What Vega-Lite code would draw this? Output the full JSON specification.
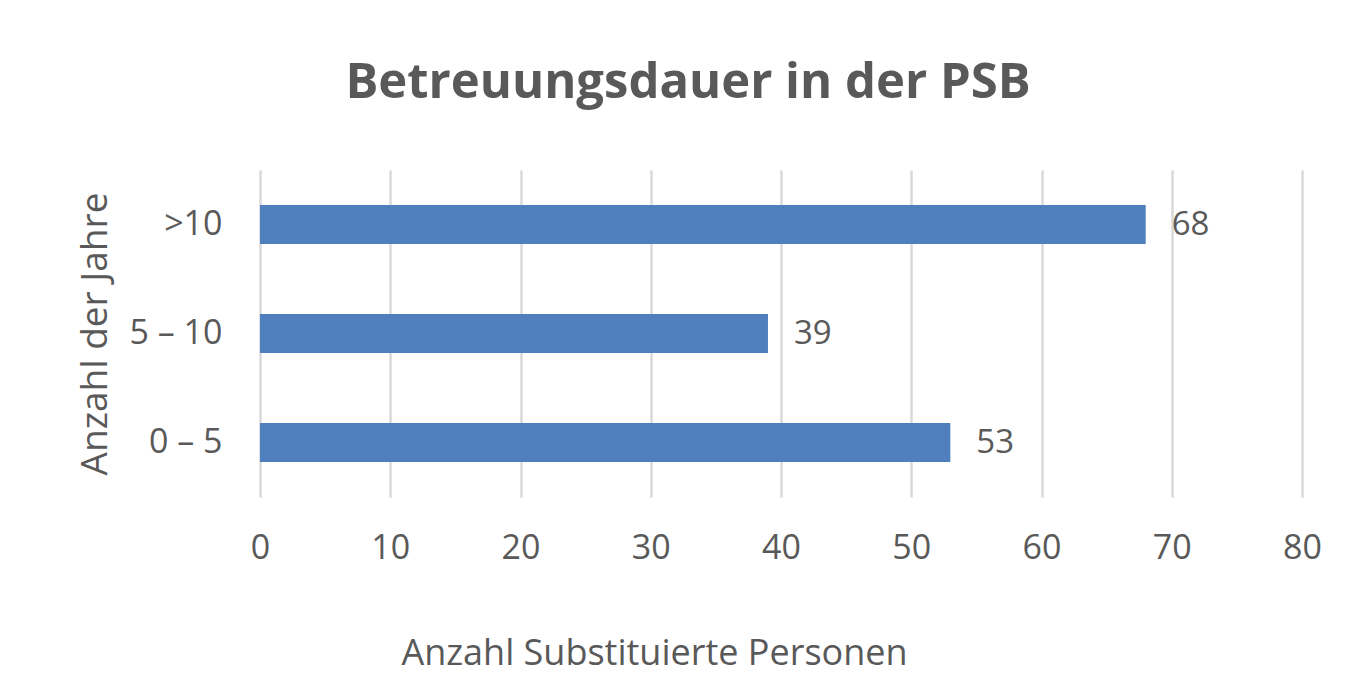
{
  "$schema": "https://vega.github.io/schema/vega-lite/v6.json",
  "width": 1042,
  "height": 327,
  "autosize": {"type": "none"},
  "padding": {"left": 260, "top": 170, "right": 65, "bottom": 184},
  "background": "#ffffff",
  "title": {
    "text": "Betreuungsdauer in der PSB",
    "anchor": "middle",
    "dx": -93,
    "offset": 62,
    "fontSize": 49,
    "font": "Open Sans",
    "fontWeight": "bold",
    "color": "#595959"
  },
  "data": {
    "values": [
      {"jahre": ">10", "anzahl": 68},
      {"jahre": "5 – 10", "anzahl": 39},
      {"jahre": "0 – 5", "anzahl": 53}
    ]
  },
  "encoding": {
    "y": {
      "field": "jahre",
      "type": "nominal",
      "sort": [">10", "5 – 10", "0 – 5"],
      "scale": {"paddingInner": 0.64, "paddingOuter": 0.32},
      "axis": {
        "title": "Anzahl der Jahre",
        "titleFont": "Open Sans",
        "titleFontSize": 37,
        "titleFontWeight": "normal",
        "titleColor": "#595959",
        "titleX": -165,
        "titleBaseline": "middle",
        "labelFont": "Open Sans",
        "labelFontSize": 34,
        "labelColor": "#595959",
        "labelPadding": 38,
        "domain": false,
        "ticks": false,
        "grid": false
      }
    },
    "x": {
      "field": "anzahl",
      "type": "quantitative",
      "scale": {"domain": [0, 80]},
      "axis": {
        "title": "Anzahl Substituierte Personen",
        "values": [0, 10, 20, 30, 40, 50, 60, 70, 80],
        "titleFont": "Open Sans",
        "titleFontSize": 36,
        "titleFontWeight": "normal",
        "titleColor": "#595959",
        "titleX": 394,
        "titleY": 167,
        "titleBaseline": "alphabetic",
        "titleAnchor": "middle",
        "labelFont": "Open Sans",
        "labelFontSize": 34,
        "labelColor": "#595959",
        "labelPadding": 34,
        "labelFlush": false,
        "domain": false,
        "ticks": false,
        "grid": true,
        "gridColor": "#d9d9d9",
        "gridWidth": 2.5
      }
    }
  },
  "layer": [
    {"mark": {"type": "bar", "color": "#4f7fbc"}},
    {
      "mark": {
        "type": "text",
        "align": "left",
        "baseline": "middle",
        "dx": 26,
        "font": "Open Sans",
        "fontSize": 33,
        "color": "#595959"
      },
      "encoding": {"text": {"field": "anzahl", "type": "quantitative"}}
    }
  ],
  "config": {"view": {"stroke": null}}
}
